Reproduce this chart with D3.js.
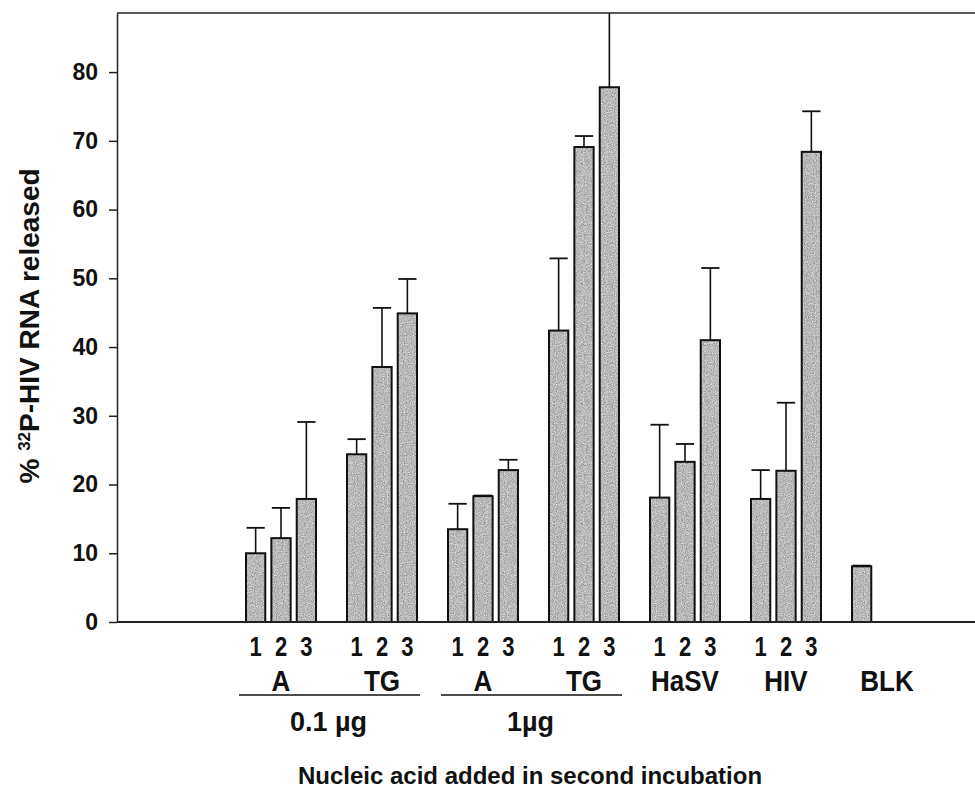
<!DOCTYPE html>
<html lang="en">
<head>
  <meta charset="utf-8">
  <title>32P-HIV RNA released</title>
  <style type="text/css">
    body { margin: 0; background: #fff; }
    svg { display: block; }
    text { font-family: "Liberation Sans", Arial, sans-serif; font-weight: bold; fill: #111; }
  </style>
  <script src="https://cdnjs.cloudflare.com/ajax/libs/d3/7.8.5/d3.min.js"></script>
</head>
<body>
<div id="chart"></div>
<script>
  // groups along the x axis
  var groups = ["A-0.1", "TG-0.1", "A-1", "TG-1", "HaSV", "HIV", "BLK"];
  var groupLabels = ["A", "TG", "A", "TG", "HaSV", "HIV", "BLK"];
  var replicates = ["1", "2", "3"];

  // mean % released, one array per group
  var means = [
    [10.0, 12.2, 17.9],
    [24.4, 37.1, 44.9],
    [13.5, 18.3, 22.1],
    [42.4, 69.1, 77.8],
    [18.1, 23.3, 41.0],
    [17.9, 22.0, 68.4],
    [8.1]
  ];
  // upper error (SD)
  var errs = [
    [3.7, 4.4, 11.2],
    [2.2, 8.6, 5.0],
    [3.7, 0.1, 1.5],
    [10.5, 1.6, 12.0],
    [10.6, 2.6, 10.5],
    [4.2, 9.9, 5.9],
    [0.1]
  ];

  var yTicks = [0, 10, 20, 30, 40, 50, 60, 70, 80];
  var doses = [
    { label: "0.1 µg", from: "A-0.1", to: "TG-0.1" },
    { label: "1µg", from: "A-1", to: "TG-1" }
  ];

  var w = 975, h = 789;
  var mLeft = 117, mTop = 13, mRight = 975, mBottom = 622;

  var svg = d3.select("#chart").append("svg")
    .attr("width", w)
    .attr("height", h);

  // grainy grey fill, like the stippled print
  var defs = svg.append("defs");
  var grain = defs.append("filter").attr("id", "grain")
    .attr("x", 0).attr("y", 0).attr("width", 1).attr("height", 1)
    .attr("color-interpolation-filters", "sRGB");
  grain.append("feTurbulence")
    .attr("type", "fractalNoise").attr("baseFrequency", 0.9)
    .attr("numOctaves", 2).attr("seed", 3).attr("result", "noise");
  grain.append("feColorMatrix")
    .attr("in", "noise").attr("type", "matrix")
    .attr("values", "0.33 0.33 0.33 0 0  0.33 0.33 0.33 0 0  0.33 0.33 0.33 0 0  0 0 0 0 1")
    .attr("result", "grey");
  var ct = grain.append("feComponentTransfer").attr("in", "grey").attr("result", "toned");
  ["feFuncR", "feFuncG", "feFuncB"].forEach(function(f) {
    ct.append(f).attr("type", "linear").attr("slope", 0.9).attr("intercept", 0.28);
  });
  grain.append("feComposite").attr("in", "toned").attr("in2", "SourceGraphic").attr("operator", "in");

  var pat = defs.append("pattern").attr("id", "stipple")
    .attr("patternUnits", "userSpaceOnUse")
    .attr("width", 120).attr("height", 120);
  pat.append("rect").attr("width", 120).attr("height", 120).attr("fill", "#bbbbbb");
  pat.append("rect").attr("width", 120).attr("height", 120).attr("fill", "#bbbbbb")
    .attr("filter", "url(#grain)");

  var y = d3.scaleLinear()
    .domain([0, 88.6])
    .range([mBottom, mTop]);

  var x0 = d3.scaleBand()
    .domain(groups)
    .range([230.5, 937.5])
    .paddingInner(0.307)
    .paddingOuter(0.1535);

  var x1 = d3.scaleBand()
    .domain(replicates)
    .range([0, x0.bandwidth()])
    .paddingInner(0.24)
    .paddingOuter(0);

  defs.append("clipPath").attr("id", "plotclip")
    .append("rect")
    .attr("x", mLeft).attr("y", mTop)
    .attr("width", mRight - mLeft).attr("height", mBottom - mTop);

  // bars
  var rows = [];
  groups.forEach(function(g, i) {
    means[i].forEach(function(v, j) {
      rows.push({ group: g, rep: replicates[j], value: v, err: errs[i][j] });
    });
  });

  var plot = svg.append("g").attr("clip-path", "url(#plotclip)");

  plot.selectAll("line.err")
    .data(rows)
    .enter().append("line")
    .attr("class", "err")
    .attr("x1", function(d) { return x0(d.group) + x1(d.rep) + x1.bandwidth() / 2; })
    .attr("x2", function(d) { return x0(d.group) + x1(d.rep) + x1.bandwidth() / 2; })
    .attr("y1", function(d) { return y(d.value); })
    .attr("y2", function(d) { return y(d.value + d.err); })
    .attr("stroke", "#111")
    .attr("stroke-width", 1.6);

  plot.selectAll("line.cap")
    .data(rows)
    .enter().append("line")
    .attr("class", "cap")
    .attr("x1", function(d) { return x0(d.group) + x1(d.rep) + 0.5; })
    .attr("x2", function(d) { return x0(d.group) + x1(d.rep) + x1.bandwidth() - 0.5; })
    .attr("y1", function(d) { return y(d.value + d.err); })
    .attr("y2", function(d) { return y(d.value + d.err); })
    .attr("stroke", "#111")
    .attr("stroke-width", 1.8);

  plot.selectAll("rect.bar")
    .data(rows)
    .enter().append("rect")
    .attr("class", "bar")
    .attr("x", function(d) { return x0(d.group) + x1(d.rep); })
    .attr("y", function(d) { return y(d.value); })
    .attr("width", x1.bandwidth())
    .attr("height", function(d) { return y(0) - y(d.value); })
    .attr("fill", "url(#stipple)")
    .attr("stroke", "#111")
    .attr("stroke-width", 2);

  // frame: left axis, top line, baseline
  svg.append("line")
    .attr("x1", mLeft).attr("x2", mRight).attr("y1", mTop).attr("y2", mTop)
    .attr("stroke", "#222").attr("stroke-width", 1.5);
  svg.append("line")
    .attr("x1", mLeft).attr("x2", mRight).attr("y1", mBottom).attr("y2", mBottom)
    .attr("stroke", "#222").attr("stroke-width", 1.8);

  var yAxis = svg.append("g")
    .attr("transform", "translate(" + mLeft + ",0)")
    .call(d3.axisLeft(y).tickValues(yTicks).tickSize(8).tickPadding(11).tickSizeOuter(0));
  yAxis.select(".domain").attr("stroke", "#222").attr("stroke-width", 1.5);
  yAxis.selectAll(".tick line").attr("stroke", "#222").attr("stroke-width", 1.5);
  yAxis.selectAll(".tick text")
    .style("font-family", "'Liberation Sans', Arial, sans-serif")
    .style("font-weight", "bold")
    .style("font-size", "23px")
    .attr("fill", "#111");

  // y title with superscript
  var yt = svg.append("text")
    .attr("transform", "translate(39," + 326 + ") rotate(-90)")
    .attr("text-anchor", "middle")
    .style("font-size", "28px");
  yt.append("tspan").text("% ");
  yt.append("tspan").text("32").style("font-size", "17px").attr("dy", -9);
  yt.append("tspan").text("P-HIV RNA released").attr("dy", 9);

  // replicate numbers
  svg.selectAll("text.rep")
    .data(rows.filter(function(d) { return d.group !== "BLK"; }))
    .enter().append("text")
    .attr("class", "rep")
    .attr("transform", function(d) {
      return "translate(" + (x0(d.group) + x1(d.rep) + x1.bandwidth() / 2) + ",656) scale(1,1.25)";
    })
    .attr("text-anchor", "middle")
    .style("font-size", "22px")
    .text(function(d) { return d.rep; });

  // group labels
  svg.selectAll("text.grp")
    .data(groups)
    .enter().append("text")
    .attr("class", "grp")
    .attr("transform", function(d) {
      return "translate(" + (x0(d) + x0.bandwidth() / 2) + ",691) scale(1,1.1)";
    })
    .attr("text-anchor", "middle")
    .style("font-size", "26px")
    .text(function(d, i) { return groupLabels[i]; });

  // dose lines and labels
  doses.forEach(function(d) {
    var a = x0(d.from) - 7, b = x0(d.to) + x0.bandwidth() + 3;
    svg.append("line")
      .attr("x1", a).attr("x2", b).attr("y1", 695).attr("y2", 695)
      .attr("stroke", "#111").attr("stroke-width", 1.6);
    svg.append("text")
      .attr("x", (a + b) / 2 - 1)
      .attr("y", 731)
      .attr("text-anchor", "middle")
      .style("font-size", "27px")
      .text(d.label);
  });

  svg.append("text")
    .attr("x", 530)
    .attr("y", 784)
    .attr("text-anchor", "middle")
    .style("font-size", "24px")
    .text("Nucleic acid added in second incubation");
</script>
</body>
</html>
